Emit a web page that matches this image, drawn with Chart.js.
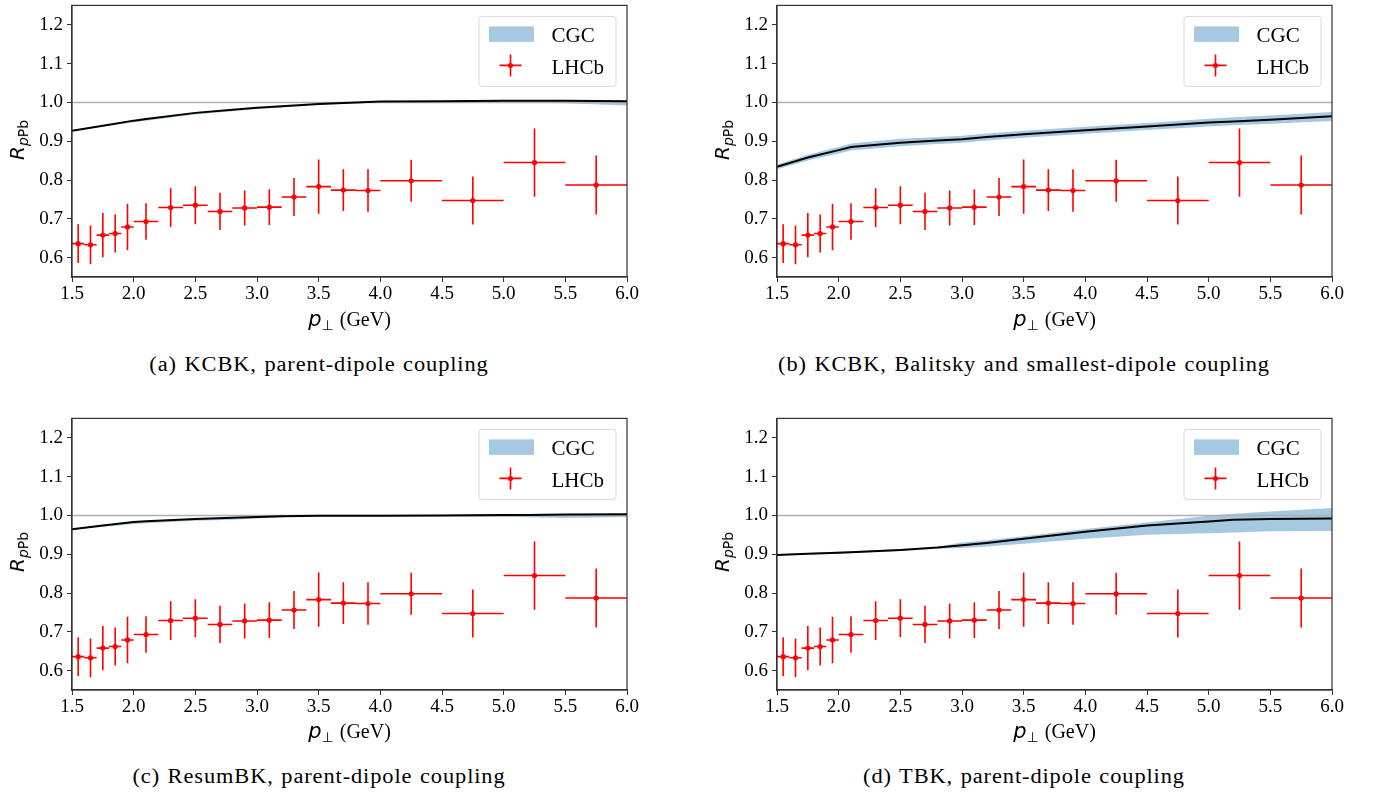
<!DOCTYPE html>
<html>
<head>
<meta charset="utf-8">
<script src="https://cdn.jsdelivr.net/npm/chart.js@4.4.1/dist/chart.umd.min.js"></script>
<style>
  body { margin: 0; width: 1375px; height: 793px; background: #fff; position: relative; overflow: hidden; }
  canvas { position: absolute; }
  .lbl { position: absolute; transform: translate(-50%, -50%); white-space: nowrap; color: #000; }
  .ytitle { font-family: 'DejaVu Sans', sans-serif; font-size: 20px; transform: translate(-50%, -50%) rotate(-90deg); }
  .ytitle sub { font-size: 14px; vertical-align: -4px; }
  .xtitle { font-family: 'Liberation Serif', serif; font-size: 20px; }
  .xtitle i { font-family: 'DejaVu Sans', sans-serif; font-size: 21px; }
  .xtitle sub { font-family: 'DejaVu Sans', sans-serif; font-size: 14px; vertical-align: -4px; margin-right: 6px; }
  .caption { font-family: 'Liberation Serif', serif; font-size: 20px; letter-spacing: 0.8px; word-spacing: 1px;
             transform: translate(-50%, -50%) scaleX(1.12); }
</style>
</head>
<body>
<script>
// LHCb points (same in every panel)
const binCenters = [1.55, 1.65, 1.75, 1.85, 1.95, 2.1, 2.3, 2.5, 2.7, 2.9, 3.1, 3.3, 3.5, 3.7, 3.9, 4.25, 4.75, 5.25, 5.75];
const binHalf = [0.05, 0.05, 0.05, 0.05, 0.05, 0.1, 0.1, 0.1, 0.1, 0.1, 0.1, 0.1, 0.1, 0.1, 0.1, 0.25, 0.25, 0.25, 0.25];
const lhcbR = [0.636, 0.633, 0.658, 0.662, 0.679, 0.693, 0.729, 0.735, 0.719, 0.728, 0.730, 0.756, 0.783, 0.774, 0.773, 0.798, 0.747, 0.845, 0.787];
const lhcbErr = [0.050, 0.050, 0.057, 0.049, 0.060, 0.047, 0.050, 0.049, 0.048, 0.045, 0.046, 0.049, 0.070, 0.054, 0.055, 0.054, 0.062, 0.088, 0.076];

// CGC curves
const thX = [1.5, 1.75, 2.0, 2.1, 2.5, 2.8, 3.0, 3.2, 3.5, 4.0, 4.5, 5.0, 5.2, 5.5, 6.0];

const kcbkPdMid = [0.927, 0.940, 0.953, 0.957, 0.973, 0.981, 0.986, 0.990, 0.996, 1.002, 1.003, 1.004, 1.004, 1.004, 1.003];
const kcbkPdLo  = [0.926, 0.937, 0.949, 0.953, 0.969, 0.977, 0.983, 0.987, 0.994, 1.000, 1.001, 1.001, 1.000, 0.998, 0.992];
const kcbkPdHi  = [0.928, 0.941, 0.954, 0.958, 0.974, 0.982, 0.987, 0.991, 0.997, 1.003, 1.004, 1.005, 1.005, 1.005, 1.005];

const kcbkBalMid = [0.834, 0.858, 0.877, 0.885, 0.896, 0.902, 0.905, 0.911, 0.918, 0.928, 0.938, 0.948, 0.951, 0.955, 0.964];
const kcbkBalLo  = [0.828, 0.850, 0.868, 0.876, 0.887, 0.893, 0.896, 0.902, 0.909, 0.919, 0.929, 0.938, 0.941, 0.945, 0.952];
const kcbkBalHi  = [0.840, 0.865, 0.885, 0.894, 0.906, 0.911, 0.914, 0.920, 0.927, 0.937, 0.947, 0.958, 0.962, 0.966, 0.975];

const resumMid = [0.964, 0.974, 0.983, 0.985, 0.991, 0.994, 0.996, 0.998, 0.999, 0.999, 1.000, 1.001, 1.001, 1.002, 1.003];
const resumLo  = [0.963, 0.971, 0.978, 0.980, 0.986, 0.989, 0.992, 0.995, 0.998, 0.998, 0.998, 0.996, 0.995, 0.993, 0.996];
const resumHi  = [0.965, 0.975, 0.984, 0.986, 0.992, 0.995, 0.997, 0.999, 1.000, 1.000, 1.001, 1.002, 1.002, 1.003, 1.004];

const tbkMid = [0.898, 0.901, 0.904, 0.905, 0.911, 0.917, 0.923, 0.929, 0.940, 0.958, 0.974, 0.984, 0.989, 0.991, 0.992];
const tbkLo  = [0.897, 0.899, 0.902, 0.903, 0.908, 0.914, 0.916, 0.920, 0.927, 0.940, 0.950, 0.954, 0.956, 0.959, 0.960];
const tbkHi  = [0.900, 0.903, 0.907, 0.908, 0.913, 0.919, 0.930, 0.936, 0.946, 0.965, 0.982, 0.999, 1.004, 1.010, 1.019];

const xTicks = [1.5, 2.0, 2.5, 3.0, 3.5, 4.0, 4.5, 5.0, 5.5, 6.0];
const yTicks = [0.6, 0.7, 0.8, 0.9, 1.0, 1.1, 1.2];
const captions = [
  '(a) KCBK, parent-dipole coupling',
  '(b) KCBK, Balitsky and smallest-dipole coupling',
  '(c) ResumBK, parent-dipole coupling',
  '(d) TBK, parent-dipole coupling',
];

const BAND = 'rgb(166, 201, 226)';
Chart.defaults.font.family = "'Liberation Serif', serif";
Chart.defaults.font.size = 19;
Chart.defaults.color = '#000';

const pts = arr => thX.map((x, i) => ({ x, y: arr[i] }));

const errorBars = {
  id: 'errorBars',
  afterDatasetsDraw(chart) {
    const { ctx, scales: { x, y } } = chart;
    ctx.save();
    ctx.strokeStyle = 'red';
    ctx.lineWidth = 1.6;
    ctx.beginPath();
    binCenters.forEach((c, i) => {
      const px = x.getPixelForValue(c), py = y.getPixelForValue(lhcbR[i]);
      ctx.moveTo(x.getPixelForValue(c - binHalf[i]), py);
      ctx.lineTo(x.getPixelForValue(c + binHalf[i]), py);
      ctx.moveTo(px, y.getPixelForValue(lhcbR[i] - lhcbErr[i]));
      ctx.lineTo(px, y.getPixelForValue(lhcbR[i] + lhcbErr[i]));
    });
    ctx.stroke();
    ctx.restore();
  },
};

const frame = {
  id: 'frame',
  afterDraw(chart) {
    const { ctx, chartArea: a } = chart;
    ctx.save();
    ctx.strokeStyle = '#333';
    ctx.lineWidth = 1.2;
    ctx.strokeRect(a.left, a.top, a.right - a.left, a.bottom - a.top);

    // legend box
    const bx = a.right - 148, by = a.top + 11, bw = 137, bh = 70;
    ctx.fillStyle = 'rgba(255,255,255,0.8)';
    ctx.strokeStyle = '#d9d9d9';
    ctx.lineWidth = 1;
    ctx.beginPath();
    ctx.roundRect(bx, by, bw, bh, 3);
    ctx.fill();
    ctx.stroke();
    ctx.fillStyle = BAND;
    ctx.fillRect(bx + 10, by + 10, 45, 15.5);
    ctx.strokeStyle = 'red';
    ctx.lineWidth = 1.6;
    const sx = bx + 31.5, sy = by + 49;
    ctx.beginPath();
    ctx.moveTo(sx - 11, sy); ctx.lineTo(sx + 11, sy);
    ctx.moveTo(sx, sy - 11); ctx.lineTo(sx, sy + 11);
    ctx.stroke();
    ctx.fillStyle = 'red';
    ctx.beginPath(); ctx.arc(sx, sy, 2.5, 0, Math.PI * 2); ctx.fill();
    ctx.fillStyle = '#000';
    ctx.font = "21px 'Liberation Serif'";
    ctx.textBaseline = 'alphabetic';
    ctx.fillText('CGC', bx + 72.5, by + 25.7);
    ctx.fillText('LHCb', bx + 72.5, by + 57.4);
    ctx.restore();
  },
};

function makePanel(box, mid, lo, hi, caption) {
  const canvas = document.createElement('canvas');
  const W = box.r - box.l + 80, H = box.b - box.t + 52;
  canvas.width = W;
  canvas.height = H;
  canvas.style.left = (box.l - 60) + 'px';
  canvas.style.top = (box.t - 12) + 'px';
  document.body.appendChild(canvas);

  new Chart(canvas, {
    type: 'line',
    data: {
      datasets: [
        { data: pts(lo), borderColor: 'transparent', pointRadius: 0, fill: false, order: 4 },
        { data: pts(hi), borderColor: 'transparent', pointRadius: 0, fill: '-1', backgroundColor: BAND, order: 3 },
        { data: [{ x: 1.5, y: 1 }, { x: 6, y: 1 }], borderColor: '#b0b0b0', borderWidth: 1.5, pointRadius: 0, order: 2 },
        { data: pts(mid), borderColor: '#000', borderWidth: 2, pointRadius: 0, order: 1 },
        {
          type: 'scatter',
          data: binCenters.map((x, i) => ({ x, y: lhcbR[i] })),
          pointRadius: 2.6, pointBackgroundColor: 'red', pointBorderWidth: 0, order: 0,
        },
      ],
    },
    options: {
      responsive: false,
      animation: false,
      events: [],
      layout: { padding: { left: 0, top: 12, right: 20, bottom: 0 } },
      plugins: { legend: { display: false }, tooltip: { enabled: false } },
      scales: {
        x: {
          type: 'linear', min: 1.5, max: 6,
          afterBuildTicks: s => { s.ticks = xTicks.map(v => ({ value: v })); },
          afterFit: s => { s.height = 40; },
          ticks: { callback: v => v.toFixed(1), color: '#000', padding: 1, maxRotation: 0, autoSkip: false },
          grid: { drawOnChartArea: false, tickLength: 5, color: '#333' },
          border: { color: '#333', width: 1.2 },
        },
        y: {
          type: 'linear', min: 0.55, max: 1.25,
          afterBuildTicks: s => { s.ticks = yTicks.map(v => ({ value: v })); },
          afterFit: s => { s.width = 60; },
          ticks: { callback: v => v.toFixed(1), color: '#000', padding: 4 },
          grid: { drawOnChartArea: false, tickLength: 5, color: '#333' },
          border: { color: '#333', width: 1.2 },
        },
      },
    },
    plugins: [errorBars, frame],
  });

  const cx = (box.l + box.r) / 2, cy = (box.t + box.b) / 2;
  addLabel('lbl ytitle', box.l - 54, cy, '<i>R</i><sub><i>p</i>Pb</sub>');
  addLabel('lbl xtitle', cx, box.b + 42, '<i>p</i><sub>⊥</sub>(GeV)');
  addLabel('lbl caption', box.l + 247, box.b + 86, caption);
}

function addLabel(cls, x, y, html) {
  const d = document.createElement('div');
  d.className = cls;
  d.style.left = x + 'px';
  d.style.top = y + 'px';
  d.innerHTML = html;
  document.body.appendChild(d);
}

makePanel({ l: 72, r: 627, t: 2.2, b: 278 }, kcbkPdMid, kcbkPdLo, kcbkPdHi, captions[0]);
makePanel({ l: 777, r: 1332, t: 2.2, b: 278 }, kcbkBalMid, kcbkBalLo, kcbkBalHi, captions[1]);
makePanel({ l: 72, r: 627, t: 414.5, b: 690.3 }, resumMid, resumLo, resumHi, captions[2]);
makePanel({ l: 777, r: 1332, t: 414.5, b: 690.3 }, tbkMid, tbkLo, tbkHi, captions[3]);
</script>
</body>
</html>
